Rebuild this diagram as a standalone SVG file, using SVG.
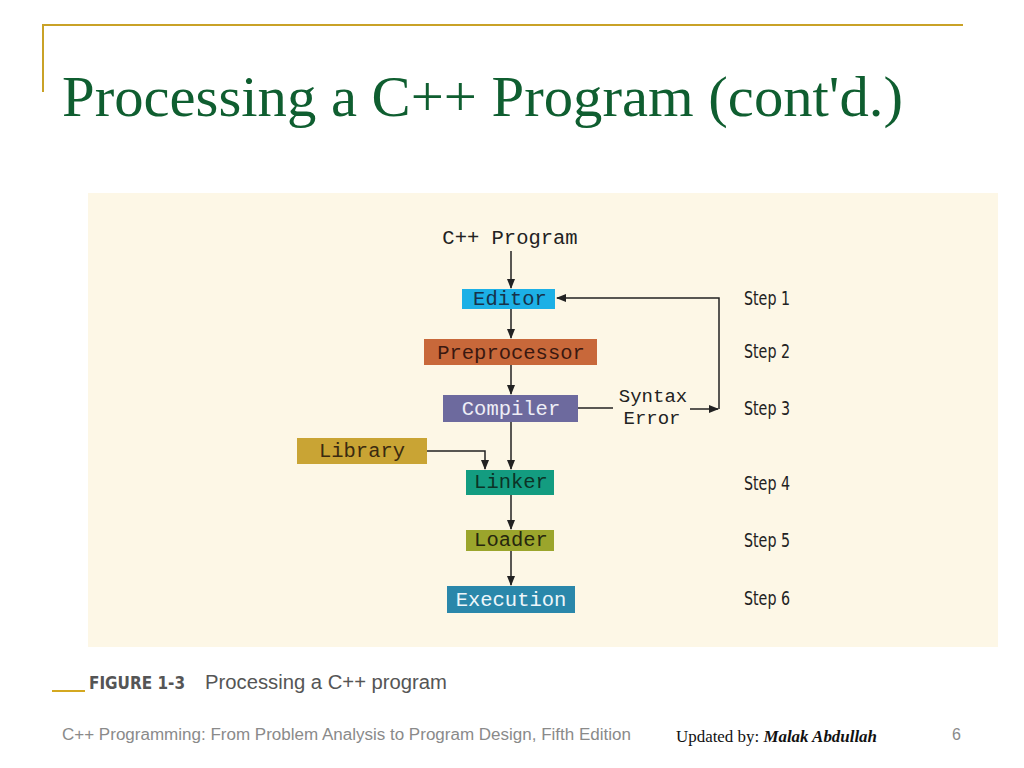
<svg xmlns="http://www.w3.org/2000/svg" width="1024" height="768" viewBox="0 0 1024 768">
<style>
.mono{font-family:"Liberation Mono","DejaVu Sans Mono",monospace;font-size:20.5px;text-anchor:middle}
.step{font-family:"Liberation Sans Narrow","DejaVu Sans Condensed","Liberation Sans",sans-serif;font-size:19px;fill:#222}
.conn{stroke:#222;stroke-width:1.5;fill:none}
</style>
<defs>
<marker id="ah" markerWidth="10" markerHeight="8" refX="9" refY="4" orient="auto" markerUnits="userSpaceOnUse">
<path d="M0,0 L10,4 L0,8 Z" fill="#222"/>
</marker>
</defs>
<rect width="1024" height="768" fill="#ffffff"/>
<g id="title">
<line x1="42" y1="25" x2="963" y2="25" stroke="#c9a227" stroke-width="2"/>
<line x1="43" y1="24" x2="43" y2="92" stroke="#c9a227" stroke-width="2"/>
<text x="62" y="116" font-family="Liberation Serif,serif" font-size="56" fill="#0f5e30" textLength="841" lengthAdjust="spacingAndGlyphs">Processing a C++ Program (cont'd.)</text>
</g>
<rect x="88" y="193" width="910" height="454" fill="#fdf7e6"/>
<g id="connectors">
<line class="conn" x1="511" y1="251" x2="511" y2="288" marker-end="url(#ah)"/>
<line class="conn" x1="511" y1="309" x2="511" y2="338" marker-end="url(#ah)"/>
<line class="conn" x1="511" y1="365" x2="511" y2="394" marker-end="url(#ah)"/>
<line class="conn" x1="511" y1="422" x2="511" y2="469" marker-end="url(#ah)"/>
<path class="conn" d="M427,451 H485 V469" marker-end="url(#ah)"/>
<line class="conn" x1="511" y1="495" x2="511" y2="529" marker-end="url(#ah)"/>
<line class="conn" x1="511" y1="551" x2="511" y2="585" marker-end="url(#ah)"/>
<line class="conn" x1="578" y1="408" x2="613" y2="408"/>
<line class="conn" x1="690" y1="409" x2="718" y2="409" marker-end="url(#ah)"/>
<path class="conn" d="M719,409 V298 H557" marker-end="url(#ah)"/>
</g>
<g id="cpp-program"><text class="mono" x="510" y="244" fill="#222">C++ Program</text></g>
<g id="editor"><rect x="462" y="289" width="93" height="20" fill="#1cb0e6"/><text class="mono" x="510" y="305" fill="#17324a">Editor</text></g>
<g id="preprocessor"><rect x="424" y="339" width="173" height="26" fill="#c8683a"/><text class="mono" x="511" y="359" fill="#3a1810">Preprocessor</text></g>
<g id="compiler"><rect x="443" y="395" width="135" height="27" fill="#6d6a9e"/><text class="mono" x="511" y="415" fill="#eeeef6">Compiler</text></g>
<g id="syntax-error"><text class="mono" x="653" y="402" fill="#222" style="font-size:19px">Syntax</text><text class="mono" x="652" y="424" fill="#222" style="font-size:19px">Error</text></g>
<g id="library"><rect x="297" y="438" width="130" height="26" fill="#c9a434"/><text class="mono" x="362" y="457" fill="#3a2a10">Library</text></g>
<g id="linker"><rect x="466" y="470" width="88" height="25" fill="#139c80"/><text class="mono" x="511" y="488" fill="#0c3326">Linker</text></g>
<g id="loader"><rect x="466" y="530" width="88" height="21" fill="#9ba52c"/><text class="mono" x="511" y="546" fill="#26260e">Loader</text></g>
<g id="execution"><rect x="447" y="586" width="128" height="27" fill="#2a87aa"/><text class="mono" x="511" y="606" fill="#eef6fa">Execution</text></g>
<g id="steps">
<text class="step" x="744" y="305" textLength="46" lengthAdjust="spacingAndGlyphs">Step 1</text>
<text class="step" x="744" y="358" textLength="46" lengthAdjust="spacingAndGlyphs">Step 2</text>
<text class="step" x="744" y="415" textLength="46" lengthAdjust="spacingAndGlyphs">Step 3</text>
<text class="step" x="744" y="490" textLength="46" lengthAdjust="spacingAndGlyphs">Step 4</text>
<text class="step" x="744" y="547" textLength="46" lengthAdjust="spacingAndGlyphs">Step 5</text>
<text class="step" x="744" y="605" textLength="46" lengthAdjust="spacingAndGlyphs">Step 6</text>
</g>
<g id="caption">
<line x1="52" y1="691" x2="85" y2="691" stroke="#d4a820" stroke-width="2"/>
<text x="89" y="689" font-family="Liberation Sans Narrow,DejaVu Sans Condensed,Liberation Sans,sans-serif" font-size="18" font-weight="bold" fill="#555" textLength="96" lengthAdjust="spacingAndGlyphs">FIGURE 1-3</text>
<text x="205" y="689" font-family="Liberation Sans,sans-serif" font-size="20" fill="#555" textLength="242" lengthAdjust="spacingAndGlyphs">Processing a C++ program</text>
</g>
<g id="footer">
<text x="62" y="740" font-family="Liberation Sans,sans-serif" font-size="16" fill="#8a8a8a" textLength="569" lengthAdjust="spacingAndGlyphs">C++ Programming: From Problem Analysis to Program Design, Fifth Edition</text>
<text x="676" y="742" font-family="Liberation Serif,serif" font-size="16" fill="#111" textLength="201" lengthAdjust="spacingAndGlyphs">Updated by: <tspan font-weight="bold" font-style="italic">Malak Abdullah</tspan></text>
<text x="952" y="740" font-family="Liberation Sans,sans-serif" font-size="16" fill="#8a8a8a">6</text>
</g>
</svg>
